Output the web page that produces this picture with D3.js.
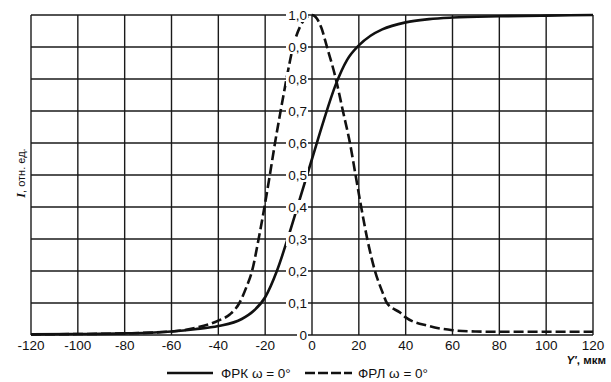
<!DOCTYPE html>
<html>
<head>
<meta charset="utf-8">
<script src="https://cdn.jsdelivr.net/npm/d3@7"></script>
<style>
  body { margin: 0; background: #fff; }
  svg { display: block; font-family: "Liberation Sans", Arial, sans-serif; }
  .grid line { stroke: #1a1a1a; stroke-width: 1.4; }
  .curve { fill: none; stroke: #111; stroke-width: 2.6; }
</style>
</head>
<body>
<svg class="chart-svg"></svg>
<script>
// x positions, um
const x_ticks = [-120, -100, -80, -60, -40, -20, 0, 20, 40, 60, 80, 100, 120];
const y_ticks = [0, 0.1, 0.2, 0.3, 0.4, 0.5, 0.6, 0.7, 0.8, 0.9, 1.0];
const y_labels = ["0", "0,1", "0,2", "0,3", "0,4", "0,5", "0,6", "0,7", "0,8", "0,9", "1,0"];

// ФРК (solid)
const frk_x = [-120, -100, -80, -60, -50, -40, -30, -25, -20, -15, -10, -5, 0, 5, 10, 15, 20, 25, 30, 40, 50, 60, 80, 100, 120];
const frk_y = [0.002, 0.003, 0.005, 0.011, 0.018, 0.028, 0.05, 0.075, 0.118, 0.2, 0.31, 0.43, 0.55, 0.67, 0.78, 0.86, 0.905, 0.935, 0.955, 0.977, 0.987, 0.992, 0.996, 0.998, 1.0];

// ФРЛ (dashed)
const frl_x = [-120, -100, -80, -60, -50, -40, -35, -31, -28, -25.6, -22.8, -20.3, -18, -15.8, -13.4, -10.9, -8.1, -5, -2, 0, 2, 4, 6.4, 10.2, 13.2, 16.2, 18.6, 21, 23.6, 26.9, 30.3, 32, 37.6, 40, 50, 60, 70, 80, 100, 120];
const frl_y = [0.002, 0.003, 0.005, 0.011, 0.022, 0.045, 0.065, 0.1, 0.15, 0.2, 0.3, 0.4, 0.5, 0.6, 0.7, 0.8, 0.9, 0.965, 0.995, 1.0, 0.99, 0.96, 0.9, 0.8, 0.7, 0.6, 0.5, 0.4, 0.3, 0.2, 0.13, 0.1, 0.07, 0.055, 0.028, 0.015, 0.011, 0.01, 0.01, 0.01];

const chart_w = 611, chart_h = 382;
const plot = { left: 31, right: 593, top: 15, bottom: 335 };

const svg = d3.select('.chart-svg')
  .attr('width', chart_w)
  .attr('height', chart_h);

const x = d3.scaleLinear().domain([-120, 120]).range([plot.left, plot.right]);
const y = d3.scaleLinear().domain([0, 1]).range([plot.bottom, plot.top]);

// grid
const grid = svg.append('g').attr('class', 'grid');
grid.selectAll('.vx').data(x_ticks).enter().append('line')
  .attr('x1', d => x(d)).attr('x2', d => x(d))
  .attr('y1', plot.top).attr('y2', plot.bottom);
grid.selectAll('.hy').data(y_ticks).enter().append('line')
  .attr('x1', plot.left).attr('x2', plot.right)
  .attr('y1', d => y(d)).attr('y2', d => y(d));

// curves
const line = d3.line().x(d => x(d[0])).y(d => y(d[1])).curve(d3.curveMonotoneX);

svg.append('path')
  .attr('class', 'curve')
  .attr('d', line(d3.zip(frk_x, frk_y)));

svg.append('path')
  .attr('class', 'curve')
  .attr('stroke-dasharray', '10,4')
  .attr('d', line(d3.zip(frl_x, frl_y)));

// y labels sit on the zero line with a white box behind
const ylab = svg.append('g').selectAll('g').data(y_ticks).enter().append('g')
  .attr('transform', d => `translate(${x(0) - 5},${y(d)})`);
ylab.append('rect')
  .attr('x', (d, i) => i == 0 ? -10 : -21)
  .attr('y', -7)
  .attr('width', (d, i) => i == 0 ? 11 : 22)
  .attr('height', 14)
  .attr('fill', '#fff');
ylab.append('text')
  .attr('text-anchor', 'end')
  .attr('dy', '0.35em')
  .attr('font-size', 13.5)
  .attr('fill', '#111')
  .text((d, i) => y_labels[i]);

// x labels
svg.append('g').selectAll('text').data(x_ticks).enter().append('text')
  .attr('x', d => x(d))
  .attr('y', 350)
  .attr('text-anchor', 'middle')
  .attr('font-size', 13.5)
  .attr('fill', '#111')
  .text(d => d);

// axis titles
const xt = svg.append('text')
  .attr('x', 606).attr('y', 364)
  .attr('text-anchor', 'end')
  .attr('font-size', 11.5)
  .attr('font-weight', 'bold')
  .attr('fill', '#111');
xt.append('tspan').attr('font-style', 'italic').text("Y'");
xt.append('tspan').text(', мкм');

const yt = svg.append('text')
  .attr('transform', 'translate(25,173) rotate(-90)')
  .attr('text-anchor', 'middle')
  .attr('font-size', 11)
  .attr('fill', '#111');
yt.append('tspan').attr('font-style', 'italic').attr('font-weight', 'bold').attr('font-family', 'Liberation Serif').attr('font-size', 12).text('I');
yt.append('tspan').text(', отн. ед.');

// legend
const legend = svg.append('g').attr('transform', 'translate(0,373)');
legend.append('line').attr('class', 'curve')
  .attr('x1', 167).attr('x2', 213).attr('y1', 0).attr('y2', 0);
legend.append('text').attr('x', 221).attr('dy', '0.35em')
  .attr('font-size', 13.5).attr('fill', '#111').text('ФРК ω = 0°');
legend.append('line').attr('class', 'curve')
  .attr('stroke-dasharray', '10,3')
  .attr('x1', 305).attr('x2', 352).attr('y1', 0).attr('y2', 0);
legend.append('text').attr('x', 358).attr('dy', '0.35em')
  .attr('font-size', 13.5).attr('fill', '#111').text('ФРЛ ω = 0°');
</script>
</body>
</html>
